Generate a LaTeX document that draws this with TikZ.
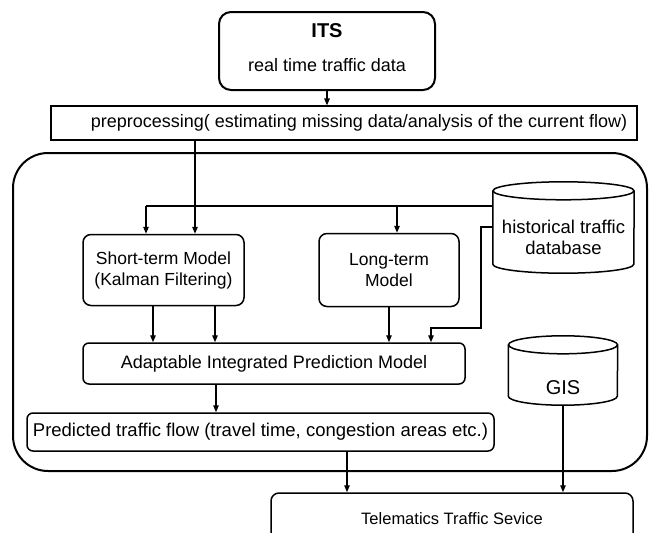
\documentclass[tikz,border=0pt]{standalone}
\usepackage{fontspec}
\setmainfont{Liberation Sans}
\usetikzlibrary{arrows.meta}
\begin{document}
\begin{tikzpicture}[x=1pt,y=1pt,
  fnt/.style={font=\fontsize{#1pt}{21pt}\selectfont},
  every node/.style={fnt=17.5},
  rbox/.style={draw, line width=1.5pt, rounded corners=8pt, inner sep=0pt, align=center},
  sbox/.style={draw, line width=1.1pt, inner sep=0pt},
  arr/.style={line width=1.3pt, -{Triangle[length=7pt,width=5.5pt]}},
  ln/.style={line width=1.3pt},
  cyl/.style={line width=1.5pt}]
\useasboundingbox (0,0) rectangle (649,-533);
\clip (0,0) rectangle (649,-533);

% nodes
\node[rbox, line width=2pt, rounded corners=12pt, minimum width=216pt, minimum height=78pt, fnt=18] (its) at (327,-51)
  {{\fontsize{20}{20}\selectfont\bfseries ITS}\\[13pt]real time traffic data\\[-14pt]\mbox{}};
\node[sbox, minimum width=586pt, minimum height=34pt, fnt=18] (prep) at (344,-123)
  {\hspace*{30pt}preprocessing( estimating missing data/analysis of the current flow)};
\node[draw, line width=2pt, rounded corners=35pt, minimum width=634pt, minimum height=318pt, inner sep=0pt] (big) at (330,-312) {};
\node[rbox, minimum width=161pt, minimum height=71pt] (short) at (163.5,-270) {Short-term Model\\(Kalman Filtering)};
\node[rbox, minimum width=140pt, minimum height=73pt] (long) at (389,-270) {Long-term\\Model};
\node[rbox, rounded corners=6pt, minimum width=382pt, minimum height=41pt, fnt=18] (adapt) at (274,-363.5) {Adaptable Integrated Prediction Model};
\node[rbox, rounded corners=6pt, minimum width=467pt, minimum height=38pt, fnt=18.5] (pred) at (260.5,-432) {Predicted traffic flow (travel time, congestion areas etc.)};
\node[rbox, rounded corners=8pt, minimum width=362pt, minimum height=52pt, fnt=16.5] (tel) at (452,-519) {Telematics Traffic Sevice};

% historical database cylinder
\node[inner sep=0pt, align=center, minimum width=141pt, minimum height=53pt, fnt=18.5] (hist) at (563.5,-237.5) {historical traffic\\database};
\draw[cyl] ([yshift=20pt]hist.north west) -- (hist.south west)
  arc[start angle=180, end angle=360, x radius=70.5pt, y radius=9pt]
  -- ([yshift=20pt]hist.north east);
\draw[cyl] ([yshift=20pt]hist.north) ellipse [x radius=70.5pt, y radius=9pt];

% GIS cylinder
\node[inner sep=0pt, minimum width=109pt, minimum height=16pt, fnt=20] (gis) at (563,-388) {GIS};
\draw[cyl] ([yshift=35pt]gis.north west) -- (gis.south west)
  arc[start angle=180, end angle=360, x radius=54.5pt, y radius=9pt]
  -- ([yshift=35pt]gis.north east);
\draw[cyl] ([yshift=35pt]gis.north) ellipse [x radius=54.5pt, y radius=9pt];

% junction coordinates
\coordinate (hj) at (146,-206);
\coordinate (hk) at (481,-328);

% connectors
\draw[arr] (its.south) -- (its.south |- prep.north);
\draw[arr] ([xshift=31.5pt]short.north |- prep.south) -- ([xshift=31.5pt]short.north);
\draw[ln] (hist.west |- hj) -- (hj);
\draw[arr] (hj) -- (hj |- short.north);
\draw[arr] ([xshift=8pt]long.north |- hj) -- ([xshift=8pt]long.north);
\draw[arr] (hist.west |- 0,-227) -| (hk) -| ([xshift=157pt]adapt.north);
\draw[arr] ([xshift=-10.5pt]short.south) -- ([xshift=-10.5pt]short.south |- adapt.north);
\draw[arr] ([xshift=51.5pt]short.south) -- ([xshift=51.5pt]short.south |- adapt.north);
\draw[arr] (long.south) -- (long.south |- adapt.north);
\draw[arr] ([xshift=-58pt]adapt.south) -- ([xshift=-58pt]adapt.south |- pred.north);
\draw[arr] ([xshift=86.5pt]pred.south) -- ([xshift=86.5pt]pred.south |- tel.north);
\draw[arr] ([yshift=-9pt]gis.south) -- (gis.south |- tel.north);
\end{tikzpicture}
\end{document}
